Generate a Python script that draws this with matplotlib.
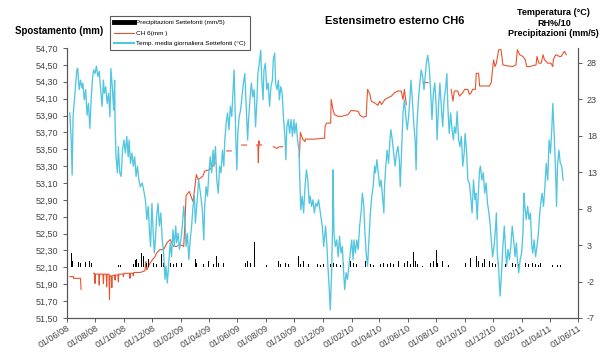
import numpy as np
import pandas as pd
import matplotlib
matplotlib.use("Agg")
import matplotlib.pyplot as plt
import matplotlib.dates as mdates
from matplotlib.ticker import FuncFormatter, FixedLocator

plt.rcParams['font.family'] = ['Liberation Sans', 'DejaVu Sans']
plt.rcParams['axes.unicode_minus'] = False

START = pd.Timestamp('2008-06-01')

# --- Temperatura media giornaliera Settefonti (°C), giorni dal 01/06/08 ---
temp_days = [6, 9, 11, 13, 17, 21, 23, 26, 29, 32, 34, 37, 40, 43, 46, 49, 52, 55, 57, 60,
             63, 66, 69, 72, 75, 78, 80, 83, 86, 89, 92, 94, 97, 100, 102, 103, 105, 108, 110, 113,
             116, 119, 122, 125, 128, 131, 133, 136, 139, 142, 145, 148, 151, 154, 157, 161, 164, 168, 171, 174,
             177, 179, 182, 184, 187, 189, 192, 195, 198, 201, 204, 207, 210, 212, 215, 218, 221, 224, 227, 230,
             233, 235, 238, 241, 244, 247, 250, 253, 255, 258, 261, 264, 267, 270, 273, 275, 279, 282, 286, 290,
             293, 295, 298, 301, 304, 307, 310, 313, 315, 318, 321, 324, 327, 330, 333, 336, 338, 341, 344, 347,
             350, 353, 356, 358, 360, 362, 364, 366, 369, 372, 375, 378, 381, 384, 387, 389, 392, 395, 398, 401,
             404, 407, 409, 412, 415, 417, 420, 422, 425, 428, 431, 434, 437, 440, 442, 445, 447, 450, 453, 455,
             458, 461, 464, 467, 469, 471, 474, 477, 480, 483, 486, 488, 491, 494, 497, 499, 501, 504, 507, 510,
             513, 516, 519, 521, 524, 527, 530, 533, 536, 539, 542, 544, 547, 550, 554, 557, 559, 562, 564, 567,
             569, 570, 572, 575, 578, 581, 584, 587, 590, 592, 595, 598, 601, 604, 607, 610, 613, 615, 618, 621,
             624, 627, 630, 633, 636, 638, 641, 644, 647, 650, 653, 656, 659, 661, 664, 667, 670, 673, 676, 679,
             680, 683, 686, 689, 692, 694, 697, 700, 703, 706, 709, 712, 714, 717, 720, 723, 726, 729, 732, 735,
             737, 740, 743, 746, 748, 750, 753, 756, 759, 762, 765, 768, 770, 773, 776, 779, 782, 785, 788, 791,
             793, 796, 799, 802, 805, 808, 811, 814, 816, 819, 822, 825, 828, 830, 833, 836, 839, 842, 845, 848,
             851, 853, 856, 859, 862, 865, 868, 871, 874, 876, 879, 881, 884, 886, 889, 892, 895, 898, 901, 904,
             907, 909, 912, 915, 918, 920, 922, 925, 928, 931, 934, 937, 940, 942, 945, 948, 951, 954, 957, 960,
             963, 965, 968, 971, 974, 977, 979, 981, 984, 987, 990, 993, 996, 998, 1001, 1004, 1007, 1010, 1013, 1016,
             1018, 1021, 1024, 1027, 1030, 1033, 1036, 1039, 1041, 1044, 1047, 1049, 1051, 1054, 1057, 1060, 1063]
temp_vals = [21.1, 17.4, 12.6, 20.6, 23.8, 27.0, 27.2, 24.3, 25.6, 24.5, 25.2, 22.9, 24.3, 20.8, 22.4, 19.0, 23.3, 26.1, 27.0, 26.5,
             27.5, 26.1, 26.8, 24.3, 22.0, 25.6, 23.8, 24.7, 22.4, 23.8, 20.6, 27.2, 24.7, 21.5, 25.6, 19.7, 15.1, 12.9, 16.5, 12.9,
             12.4, 16.0, 17.4, 15.6, 17.9, 15.1, 17.4, 14.2, 15.6, 13.8, 15.1, 12.4, 13.8, 11.9, 11.0, 11.5, 10.6, 9.2, 6.5, 8.3,
             4.6, 2.8, 8.7, 5.6, 1.9, 3.3, 6.9, 8.7, 5.6, 7.4, 3.7, 1.9, -1.7, 0.1, -2.2, 0.5, 3.3, 1.4, 5.1, 2.8,
             5.6, 3.3, 4.6, 2.4, 3.7, 5.6, 8.3, 6.0, 2.8, 4.6, 1.0, 3.7, 5.6, 8.3, 9.7, 6.0, 9.2, 11.9, 10.1, 7.8,
             3.7, 8.3, 11.0, 9.7, 12.9, 15.1, 12.9, 16.0, 13.8, 16.5, 11.9, 10.1, 13.8, 12.9, 16.0, 13.8, 17.2, 19.7, 21.1, 18.8,
             22.0, 20.6, 24.3, 27.0, 22.0, 17.0, 13.3, 18.3, 20.6, 21.5, 23.3, 25.2, 26.5, 22.0, 17.4, 20.2, 22.9, 25.2, 23.3, 24.3,
             19.2, 22.9, 26.5, 27.9, 29.7, 26.1, 22.9, 27.0, 27.9, 24.3, 25.2, 22.0, 24.7, 25.6, 28.4, 29.3, 25.2, 24.3, 25.6, 22.9,
             24.7, 23.8, 20.2, 17.9, 14.7, 19.2, 20.2, 18.3, 20.2, 17.9, 20.2, 18.3, 19.7, 17.4, 16.0, 11.5, 7.8, 9.7, 7.4, 11.0,
             13.3, 11.9, 8.7, 9.7, 8.3, 9.2, 7.4, 8.7, 8.3, 9.2, 7.8, 6.9, 5.6, 2.8, 5.6, 2.8, 0.1, -3.1, -5.9, -0.8,
             5.6, 13.3, 4.6, 2.8, 3.7, 1.4, 4.2, 1.9, 2.8, 0.1, -3.1, -0.8, -1.7, 0.1, 1.9, 3.7, 1.0, 3.7, 1.9, 3.7,
             2.4, 5.6, 7.4, 10.1, 8.3, 5.1, 1.9, 0.1, 3.7, 7.4, 9.7, 11.0, 13.8, 12.9, 14.7, 12.9, 11.0, 11.9, 9.7, 7.4,
             10.6, 13.8, 16.0, 14.2, 17.4, 18.8, 17.4, 15.6, 13.8, 15.6, 16.5, 14.7, 11.0, 16.0, 21.1, 22.9, 20.6, 18.8, 20.6, 23.3,
             25.6, 22.9, 19.7, 17.4, 13.3, 19.7, 22.9, 25.2, 27.0, 26.1, 24.3, 26.5, 27.9, 29.0, 27.5, 24.3, 20.2, 23.8, 25.2, 22.0,
             17.4, 22.0, 25.2, 22.0, 19.2, 22.9, 24.3, 26.5, 22.0, 18.3, 21.1, 18.8, 17.4, 19.2, 18.3, 21.3, 17.4, 16.5, 17.9, 13.8,
             15.6, 18.3, 16.0, 11.9, 11.5, 9.7, 7.4, 11.9, 9.2, 10.1, 6.5, 9.7, 13.3, 13.8, 11.9, 12.9, 10.1, 11.5, 8.7, 7.4,
             5.6, 3.7, 1.4, 2.8, 5.1, 7.4, 1.9, -0.4, -4.0, -0.8, 2.8, 5.6, 1.9, 0.1, 2.4, 1.0, 2.8, 5.6, 3.7, 1.4,
             3.3, 1.0, -0.8, 1.0, 1.9, 4.6, 10.1, 8.3, 6.5, 8.3, 6.5, 7.4, 2.8, 1.9, 3.7, 1.4, 2.8, 4.6, 7.4, 9.2,
             10.1, 8.3, 11.0, 14.2, 11.9, 17.4, 15.6, 19.2, 22.4, 17.9, 12.9, 8.3, 13.8, 16.0, 14.2, 13.8, 11.9]

# --- CH 6 spostamento (mm); NaN = interruzione della serie ---
nan = np.nan
red_days = [6, 14, 14, 29, 30, nan,
            57, 59, 60, 61, 68, 69, 70, 77, 78, 79, 84, 85, 86, 90, 91, 92, 95, 96, 97, 102, 103, 104,
            109, 110, 111, 120, 121, 122, 134, 135, 136, 141, 142, 143, 157, 167, 169, 171, 178, 183, 189, 192,
            199, 207, 214, 221, 228, 235, 242, 250, 253, 255, 262, 267, 270, 274, 277, 281, 291, 295, 306, 312, 318, nan,
            342, 352, nan, 374, 385, nan, 406, 409, 410, 411, 413, 417, nan, 442, 450, 455, 462, nan,
            498, 500, 505, 510, 511, 530, 549, 552, 553, 556, 565, 566, 570, 573, 581, 588, 602, 609, 624, 627,
            631, 634, 641, 644, 649, 652, 659, 666, 670, 674, 681, 688, 695, 702, 709, 716, 720, 723, 727, nan,
            763, 774, nan,
            823, 827, 830, 837, 841, 848, 852, 859, 862, 866, 869, 875, 877, 882, 884, 905, 909, 911, 914, 917,
            920, 925, 930, 934, 941, 955, 962, 965, 970, 977, 982, 985, 991, 998, 1005, 1007, 1011, 1016, 1020, 1023,
            1027, 1030, 1037, 1041, 1042, 1045, 1048, 1055, 1059, 1063, 1066, 1070]
red_mm = [51.99, 51.99, 51.97, 51.97, 51.84, nan,
          52.03, 52.03, 51.91, 52.02, 52.02, 51.89, 52.02, 52.02, 51.91, 52.02, 52.02, 51.87, 52.02, 52.02, 51.72, 52.00, 52.00, 51.86, 52.00, 52.01, 51.95, 52.01,
          52.01, 51.93, 52.02, 52.02, 51.99, 52.03, 52.03, 51.97, 52.03, 52.03, 52.00, 52.04, 52.04, 52.06, 52.17, 52.07, 52.15, 52.19, 52.23, 52.27,
          52.31, 52.31, 52.39, 52.43, 52.35, 52.35, 52.37, 52.35, 52.66, 52.95, 53.00, 52.92, 52.88, 53.05, 53.20, 53.14, 53.18, 53.24, 53.26, 53.30, 53.34, nan,
          53.48, 53.48, nan, 53.55, 53.55, nan, 53.55, 53.55, 53.34, 53.60, 53.55, 53.55, nan, 53.53, 53.51, 53.53, 53.53, nan,
          53.40, 53.70, 53.62, 53.59, 53.62, 53.62, 53.63, 53.63, 53.77, 53.81, 53.81, 54.09, 53.97, 53.91, 53.89, 53.89, 53.91, 53.96, 53.95, 53.91,
          53.89, 53.88, 53.89, 54.21, 54.15, 54.07, 54.05, 54.02, 54.07, 54.03, 54.09, 54.11, 54.13, 54.17, 54.19, 54.19, 54.09, 54.21, 54.03, nan,
          54.29, 54.29, nan,
          54.21, 54.07, 54.19, 54.19, 54.13, 54.17, 54.21, 54.21, 54.15, 54.17, 54.21, 54.21, 54.40, 54.40, 54.25, 54.25, 54.29, 54.40, 54.56, 54.48,
          54.52, 54.68, 54.68, 54.50, 54.49, 54.48, 54.50, 54.68, 54.62, 54.60, 54.56, 54.48, 54.48, 54.49, 54.50, 54.60, 54.52, 54.52, 54.62, 54.56,
          54.54, 54.52, 54.52, 54.48, 54.56, 54.60, 54.62, 54.60, 54.60, 54.64, 54.66, 54.62]

# --- Precipitazioni Settefonti (mm/5) ---
rain_days = [10, 12, 15, 24, 29, 39, 48, 53, 77, 92, 103, 110, 114, 142, 146, 149, 153, 160, 164, 167,
             171, 174, 178, 185, 192, 199, 203, 207, 214, 221, 228, 235, 240, 246, 255, 275, 278, 292, 300, 303,
             314, 321, 325, 332, 335, 360, 364, 382, 387, 393, 401, 403, 407, 428, 450, 453, 457, 468, 475, 482,
             496, 500, 507, 514, 518, 525, 536, 543, 550, 557, 564, 571, 578, 586, 593, 600, 607, 614, 621, 639,
             643, 650, 657, 664, 671, 678, 686, 693, 700, 707, 711, 718, 723, 729, 736, 743, 746, 751, 761, 779,
             786, 791, 794, 804, 818, 854, 857, 864, 872, 877, 882, 890, 895, 900, 906, 911, 918, 925, 932, 940,
             947, 954, 961, 968, 975, 982, 989, 997, 1004, 1011, 1015, 1022, 1033, 1040, 1051, 1057]
rain_vals = [1.88, 0.82, 0.60, 0.69, 0.60, 0.69, 0.82, 0.60, 1.28, 1.88, 0.23, 0.23, 0.23, 0.37, 0.92, 1.05, 0.60, 1.88, 1.51, 0.82,
             0.60, 1.05, 0.60, 0.60, 0.37, 0.60, 1.74, 0.60, 0.23, 0.60, 0.37, 0.60, 0.82, 0.60, 0.23, 1.05, 0.60, 0.37, 0.60, 0.82,
             0.46, 1.51, 0.60, 0.82, 0.60, 0.37, 0.23, 0.60, 0.82, 0.60, 3.43, 1.51, 0.37, 0.23, 2.43, 0.82, 0.37, 0.60, 0.46, 0.37,
             1.51, 0.37, 0.82, 0.60, 0.37, 0.60, 0.37, 0.23, 0.37, 0.60, 0.37, 0.60, 0.46, 0.23, 0.60, 0.37, 0.82, 0.60, 0.37, 0.82,
             0.60, 0.37, 0.23, 0.37, 0.46, 0.60, 0.37, 0.60, 0.46, 2.34, 0.82, 0.46, 0.60, 0.82, 0.37, 2.06, 0.82, 0.37, 0.14, 0.60,
             0.82, 2.34, 0.60, 0.82, 0.23, 0.60, 0.23, 1.28, 0.60, 1.51, 0.82, 0.60, 1.05, 0.60, 0.82, 0.60, 0.37, 0.60, 0.37, 0.46,
             0.37, 0.60, 0.37, 0.46, 0.37, 0.60, 0.37, 0.60, 0.46, 0.23, 0.60, 0.23, 0.23, 0.23, 0.23, 0.23]

left_ticks = [51.50, 51.70, 51.90, 52.10, 52.30, 52.50, 52.70, 52.90, 53.10, 53.30,
              53.50, 53.70, 53.90, 54.10, 54.30, 54.50, 54.70]
right_ticks = [-7, -2, 3, 8, 13, 18, 23, 28]

CYAN = '#52C6E0'
RED = '#E8532F'


def to_dates(days):
    return START + pd.to_timedelta(np.asarray(days, dtype=float), unit='D')


fig = plt.figure(figsize=(6.12, 3.54), dpi=100)
ax = fig.add_axes([0.1095, 0.1017, 0.835, 0.7627])
ax2 = ax.twinx()

ax.plot(to_dates(red_days), red_mm, color=RED, lw=0.8, zorder=3)
ax2.bar(to_dates(rain_days), rain_vals, width=1.6, color='black', zorder=2)
ax2.plot(to_dates(temp_days), temp_vals, color=CYAN, lw=0.95, zorder=3)

ax.set_ylim(51.50, 54.70)
ax2.set_ylim(-7, 30)
ax.set_xlim(START, pd.Timestamp('2011-06-01'))
ax.yaxis.set_major_locator(FixedLocator(left_ticks))
ax.yaxis.set_major_formatter(FuncFormatter(lambda v, p: f"{v:.2f}".replace('.', ',')))
ax2.yaxis.set_major_locator(FixedLocator(right_ticks))
ax.xaxis.set_major_locator(mdates.MonthLocator(bymonth=[2, 4, 6, 8, 10, 12], bymonthday=1))
ax.xaxis.set_major_formatter(mdates.DateFormatter('%d/%m/%y'))

for a in (ax, ax2):
    a.spines['top'].set_visible(False)
    for s in a.spines.values():
        s.set_color('#555555')
        s.set_linewidth(0.8)
    a.tick_params(labelsize=6.5, colors='#444444', length=3, width=0.6, direction='out')
ax.tick_params(axis='x', pad=1)
plt.setp(ax.get_xticklabels(), rotation=32, ha='right', rotation_mode='anchor')

fig.text(0.645, 0.94, 'Estensimetro esterno CH6', ha='center', va='center',
         fontsize=8, fontweight='bold')
fig.text(0.025, 0.912, 'Spostamento (mm)', ha='left', va='center',
         fontsize=7, fontweight='bold')
fig.text(0.905, 0.935, 'Temperatura (°C)\nRH%/10\nPrecipitazioni (mm/5)', ha='center',
         va='center', fontsize=6.5, fontweight='bold', linespacing=1.2)

handles = [plt.Line2D([], [], color='black', lw=3.5),
           plt.Line2D([], [], color=RED, lw=0.8),
           plt.Line2D([], [], color=CYAN, lw=1.5)]
labels = ['Precipitazioni Settefonti (mm/5)', 'CH 6(mm )',
          'Temp. media giornaliera Settefonti (°C)']
leg = fig.legend(handles, labels, loc='upper left', bbox_to_anchor=(0.18, 0.955),
                 fontsize=4.6, frameon=True, fancybox=False, handlelength=3.2,
                 handletextpad=0.3, borderpad=0.6, labelspacing=0.8, borderaxespad=0)
leg.get_frame().set_edgecolor('#333333')
leg.get_frame().set_linewidth(0.8)

fig.savefig('out.png', dpi=100)
